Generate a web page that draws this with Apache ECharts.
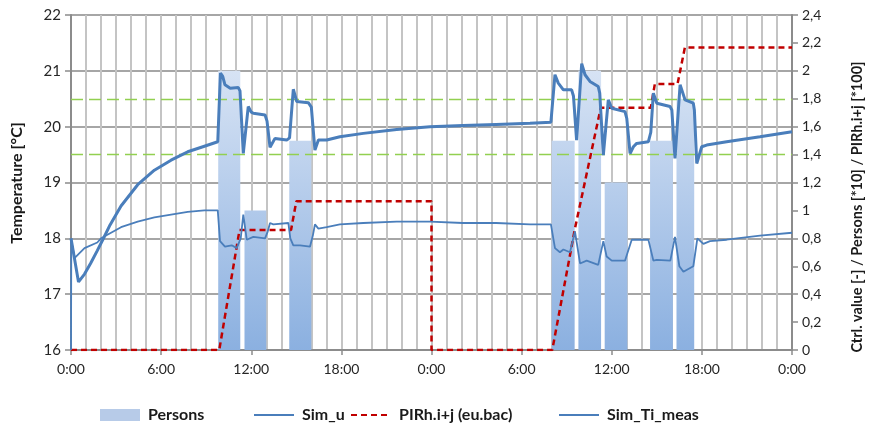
<!DOCTYPE html>
<html>
<head>
<meta charset="utf-8">
<script src="https://cdn.jsdelivr.net/npm/echarts@6/dist/echarts.min.js"></script>
<style>html,body{margin:0;padding:0;background:#fff}#c{width:870px;height:430px}</style>
</head>
<body>
<div id="c"></div>
<script>
// ---- data (x in hours from start, 0..48) ----
const xTickHours = [0, 6, 12, 18, 24, 30, 36, 42, 48];

// Persons [*10] blocks: start hour, end hour, value (right axis)
const personsStart = [9.8, 11.55, 14.53, 32.0, 33.78, 35.53, 38.55, 40.31];
const personsEnd   = [11.27, 13.0, 16.0, 33.53, 35.29, 37.04, 40.07, 41.49];
const personsVal   = [2.0, 1.0, 1.5, 1.5, 2.0, 1.2, 1.5, 1.8];

// Sim_u (right axis)
const uHours = [0, 0.02, 0.25, 0.9, 1.75, 2.0, 3.33, 4.44, 5.55, 6.66, 7.77, 8.88, 9.77,
  9.82, 9.92, 10.25, 10.7, 11.03, 11.3, 11.47, 11.7, 12.14, 12.92, 13.1, 13.25, 13.47, 14.47,
  14.6, 14.8, 15.25, 15.91, 16.1, 16.24, 16.47, 17.02, 17.9, 19.46, 21.68, 23.9, 26.1, 28.3,
  30.56, 31.95, 32.22, 32.55, 32.78, 33.22, 33.55, 33.89, 34.33, 35.1, 35.44, 35.66, 36.0,
  36.88, 37.33, 38.44, 38.77, 39.0, 39.9, 40.21, 40.5, 40.77, 41.43, 41.7, 42.1, 42.54,
  43.65, 45.87, 48.0];
const uVals = [0, 0.78, 0.66, 0.73, 0.77, 0.8, 0.88, 0.92, 0.95, 0.97, 0.99, 1.0, 1.0,
  0.99, 0.78, 0.74, 0.75, 0.73, 0.8, 0.97, 0.79, 0.81, 0.8, 0.85, 0.91, 0.9, 0.91,
  0.8, 0.75, 0.75, 0.74, 0.82, 0.9, 0.87, 0.88, 0.9, 0.91, 0.92, 0.92, 0.91, 0.91,
  0.9, 0.9, 0.73, 0.7, 0.72, 0.7, 0.85, 0.62, 0.64, 0.61, 0.78, 0.67, 0.64,
  0.64, 0.79, 0.79, 0.64, 0.645, 0.64, 0.81, 0.6, 0.56, 0.6, 0.8, 0.76, 0.78,
  0.79, 0.82, 0.84];

// PIRh.i+j (eu.bac) (right axis)
const pirHours = [0, 9.87, 11.22, 14.65, 15.0, 24.0, 24.0, 32.04, 33.55, 35.27, 38.6, 38.87, 40.38, 40.87, 48];
const pirVals  = [0, 0, 0.86, 0.86, 1.065, 1.065, 0, 0, 0.87, 1.736, 1.736, 1.906, 1.906, 2.168, 2.168];

// Sim_Ti_meas (left axis, °C)
const tiHours = [0, 0.5, 0.9, 1.3, 1.75, 2.2, 2.6, 3.33, 4.44, 5.55, 6.66, 7.77, 8.88, 9.77,
  9.82, 9.95, 10.1, 10.25, 10.6, 11.14, 11.25, 11.47, 11.8, 12.0, 12.14, 12.92, 13.05, 13.25,
  13.58, 14.36, 14.55, 14.8, 15.03, 15.8, 16.0, 16.24, 16.47, 17.02, 17.9, 19.46, 21.68, 23.9,
  26.1, 28.3, 30.56, 31.95, 32.22, 32.44, 32.78, 33.33, 33.45, 33.66, 34.0, 34.22, 34.55,
  35.1, 35.2, 35.44, 35.77, 36.0, 36.88, 37.0, 37.22, 37.44, 37.66, 38.44, 38.6, 38.77, 39.0,
  39.88, 40.0, 40.21, 40.55, 40.88, 41.43, 41.5, 41.66, 41.99, 42.32, 43.65, 45.87, 48.0];
const tiVals = [18.0, 17.22, 17.36, 17.55, 17.78, 18.02, 18.24, 18.58, 18.96, 19.22, 19.4, 19.55, 19.65, 19.73,
  19.74, 20.96, 20.9, 20.75, 20.69, 20.7, 20.64, 19.52, 20.36, 20.26, 20.24, 20.21, 20.1, 19.63,
  19.79, 19.76, 19.8, 20.67, 20.45, 20.43, 20.35, 19.58, 19.76, 19.76, 19.82, 19.88, 19.95, 20.0,
  20.02, 20.04, 20.06, 20.08, 20.93, 20.78, 20.66, 20.66, 20.55, 19.76, 21.13, 20.93, 20.81,
  20.72, 20.6, 19.49, 20.48, 20.33, 20.27, 20.15, 19.52, 19.64, 19.7, 19.73, 19.9, 20.6, 20.42,
  20.36, 20.3, 19.43, 20.75, 20.48, 20.42, 20.3, 19.34, 19.64, 19.67, 19.73, 19.82, 19.91];

// comfort band (green dashed)
const bandLines = [20.5, 19.5];

// legend names
const legendNames = ['Persons', 'Sim_u', 'PIRh.i+j (eu.bac)', 'Sim_Ti_meas'];

// ---- chart ----
const zip = (a, b) => a.map((v, i) => [v, b[i]]);
const personsData = personsStart.map((s, i) => [s, personsEnd[i], personsVal[i]]);
const FONT = 'Lato, "Open Sans", sans-serif';
const barGrad = new echarts.graphic.LinearGradient(0, 15, 0, 350, [
  {offset: 0, color: '#e6edf8'}, {offset: 1, color: '#8bb0e0'}], true);

const legendLeft = [95, 248, 345, 553];
const legends = legendNames.map((n, i) => ({
  left: legendLeft[i], top: 402, itemWidth: 40, itemHeight: 12,
  textStyle: {fontFamily: FONT, fontSize: 16, fontWeight: 'bold', color: '#1a1a1a', padding: [0, 0, 0, 3]},
  data: [i === 0 ? {name: n, icon: 'rect', itemStyle: {color: '#b7cbe8'}} : {name: n, itemStyle: {opacity: 0}}]
}));

const chart = echarts.init(document.getElementById('c'), null, {renderer: 'canvas'});
chart.setOption({
  animation: false,
  grid: {left: 71, right: 78, top: 15, bottom: 80},
  graphic: [
    {type: 'text', x: 17, y: 183, rotation: Math.PI / 2,
      style: {text: 'Temperature [°C]', textAlign: 'center', textVerticalAlign: 'middle',
        font: 'bold 16px ' + FONT, fill: '#1a1a1a'}},
    {type: 'text', x: 857, y: 207, rotation: Math.PI / 2,
      style: {text: 'Ctrl. value [-] / Persons [*10] / PIRh.i+j [*100]', textAlign: 'center',
        textVerticalAlign: 'middle', font: 'bold 14.5px ' + FONT, fill: '#1a1a1a'}}
  ],
  legend: legends,
  xAxis: {
    type: 'value', min: 0, max: 48, interval: 6,
    axisLine: {show: true, lineStyle: {color: '#8c8c8c', width: 2}},
    axisTick: {show: true, length: 5, lineStyle: {color: '#8c8c8c', width: 1.5}},
    axisLabel: {margin: 12, fontFamily: FONT, fontSize: 14, color: '#262626',
      formatter: v => (v % 24) + ':00'},
    splitLine: {show: true, lineStyle: {color: '#c4c4c4', width: 2}},
    minorTick: {show: false, splitNumber: 6},
    minorSplitLine: {show: true, lineStyle: {color: '#c4c4c4', width: 2}}
  },
  yAxis: [
    {
      type: 'value', min: 16, max: 22, interval: 1,
      axisLine: {show: true, lineStyle: {color: '#8c8c8c', width: 2}},
      axisTick: {show: true, length: 6, lineStyle: {color: '#8c8c8c', width: 1.5}},
      axisLabel: {margin: 10, fontFamily: FONT, fontSize: 15, color: '#262626'},
      splitLine: {show: true, lineStyle: {color: '#a6a6a6', width: 2}}
    },
    {
      type: 'value', min: 0, max: 2.4, interval: 0.2, position: 'right',
      axisLine: {show: true, lineStyle: {color: '#8c8c8c', width: 2}},
      axisTick: {show: true, length: 6, lineStyle: {color: '#8c8c8c', width: 1.5}},
      axisLabel: {margin: 10, fontFamily: FONT, fontSize: 14, color: '#262626',
        formatter: v => String(Math.round(v * 10) / 10).replace('.', ',')},
      splitLine: {show: false}
    }
  ],
  series: [
    {
      name: 'Persons', type: 'custom', yAxisIndex: 1, z: 1,
      data: personsData,
      encode: {x: [0, 1], y: 2},
      itemStyle: {color: '#b7cbe8'},
      renderItem: function (params, api) {
        const a = api.coord([api.value(0), api.value(2)]);
        const b = api.coord([api.value(1), 0]);
        return {type: 'rect', shape: {x: a[0], y: a[1], width: b[0] - a[0], height: b[1] - a[1]},
          style: {fill: barGrad}};
      }
    },
    {
      name: 'PIRh.i+j (eu.bac)', type: 'line', yAxisIndex: 1, z: 3,
      data: zip(pirHours, pirVals), symbol: 'none',
      lineStyle: {color: '#c00000', width: 2.5, type: [6, 4]},
      itemStyle: {color: '#c00000'}
    },
    {
      name: 'Sim_u', type: 'line', yAxisIndex: 1, z: 4,
      data: zip(uHours, uVals), symbol: 'none',
      lineStyle: {color: '#4a7ebb', width: 1.8},
      itemStyle: {color: '#4a7ebb'}
    },
    {
      name: 'Sim_Ti_meas', type: 'line', yAxisIndex: 0, z: 5,
      data: zip(tiHours, tiVals), symbol: 'none',
      lineStyle: {color: '#4a7ebb', width: 3},
      itemStyle: {color: '#4a7ebb'},
      markLine: {
        silent: true, symbol: 'none', label: {show: false}, z: 2,
        lineStyle: {color: '#92d050', width: 1.3, type: [12, 6]},
        data: bandLines.map(v => ({yAxis: v}))
      }
    }
  ]
});
</script>
</body>
</html>
